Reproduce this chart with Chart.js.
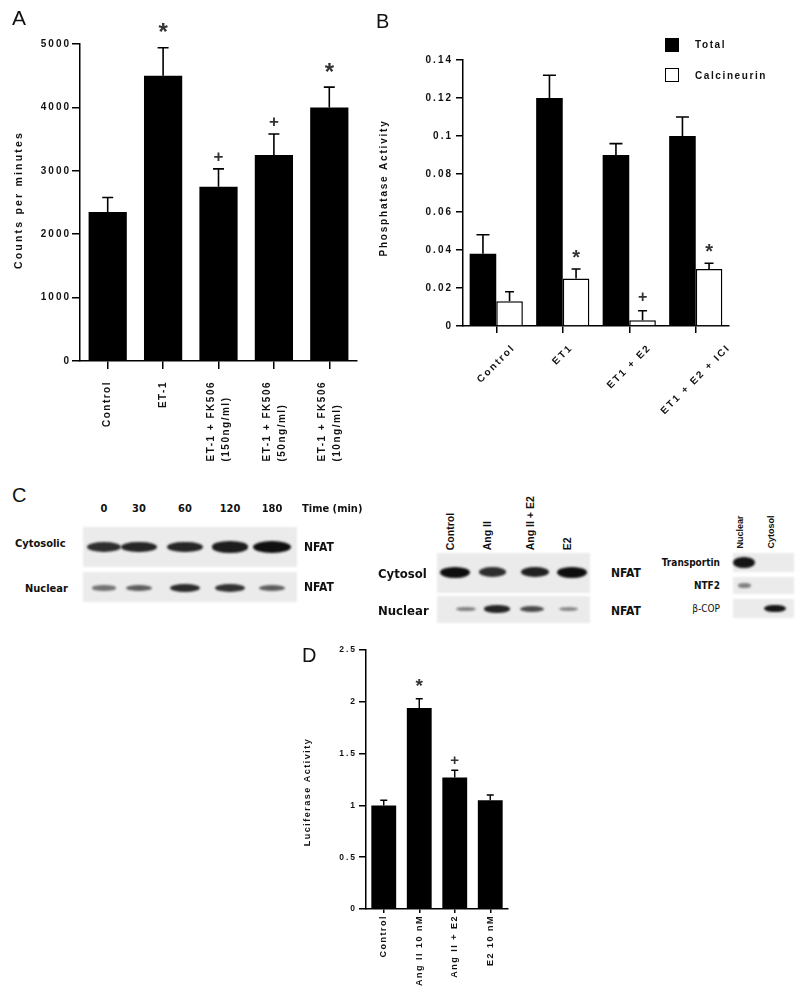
<!DOCTYPE html>
<html><head><meta charset="utf-8">
<script src="https://cdn.jsdelivr.net/npm/chart.js@4"></script>
<style>
body{margin:0;background:#fff;}
#root{position:relative;width:800px;height:1000px;overflow:hidden;font-family:'Liberation Sans',Arial,sans-serif;color:#111;background:#fff;}
canvas{position:absolute;}
.t{position:absolute;white-space:nowrap;line-height:1;}
.narrow{font-family:'Liberation Sans Narrow','DejaVu Sans Condensed','Arial Narrow',sans-serif;font-stretch:condensed;font-weight:bold;}
.strip{position:absolute;background:#ebebeb;filter:blur(0.8px);}
.band{position:absolute;border-radius:50%;filter:blur(1.3px);}
.plabel{position:absolute;font-size:20px;line-height:1;font-family:'Liberation Sans',Arial,sans-serif;color:#111;}
</style></head>
<body><div id="root">
<canvas id="cA" width="370" height="470" style="left:0;top:0;width:370px;height:470px"></canvas>
<canvas id="cB" width="430" height="470" style="left:370px;top:0;width:430px;height:470px"></canvas>
<canvas id="cD" width="250" height="370" style="left:280px;top:630px;width:250px;height:370px"></canvas>
</div>
<script>
// ---------- Panel A data ----------
const aCategories = ['Control','ET-1',['ET-1 + FK506','(150ng/ml)'],['ET-1 + FK506','(50ng/ml)'],['ET-1 + FK506','(10ng/ml)']];
const aCounts = [2350,4500,2750,3250,4000];
const aErrors = [230,440,280,330,320];
const aMarks = ['','*','+','+','*'];
const aTickLabels = ['0','1000','2000','3000','4000','5000'];
// ---------- Panel B data ----------
const bCategories = ['Control','ET1','ET1 + E2','ET1 + E2 + ICI'];
const bTotal = [0.038,0.120,0.090,0.100];
const bTotalErr = [0.010,0.012,0.006,0.010];
const bCalcineurin = [0.013,0.025,0.003,0.030];
const bCalcErr = [0.005,0.005,0.005,0.003];
const bTotalMarks = ['','','',''];
const bCalcMarks = ['','*','+','*'];
const bTickLabels = ['0','0.02','0.04','0.06','0.08','0.1','0.12','0.14'];
const bSeriesNames = ['Total','Calcineurin'];
// ---------- Panel D data ----------
const dCategories = ['Control','Ang II 10 nM','Ang II + E2','E2 10 nM'];
const dLuciferase = [1.00,1.94,1.27,1.05];
const dErrors = [0.05,0.09,0.07,0.05];
const dMarks = ['','*','+',''];
const dTickLabels = ['0','0.5','1','1.5','2','2.5'];
// ---------- Panel C (blots) data ----------
const timePoints = ['0','30','60','120','180'];
const timeCytosolic = [0.78,0.84,0.84,0.9,1.0];
const timeNuclear = [0.35,0.5,0.85,0.8,0.5];
const treatLanes = ['Control','Ang II','Ang II + E2','E2'];
const treatCytosol = [1.0,0.75,0.85,1.0];
const treatNuclear = [0.3,0.9,0.65,0.25];
const fractionLanes = ['Nuclear','Cytosol'];
const fractionMarkers = ['Transportin','NTF2','β-COP'];
const fractionBands = [[0.95,0],[0.25,0],[0,0.95]];

const FONT = '"Liberation Sans", Arial, sans-serif';

const figPlugin = {
  id:'fig',
  beforeDraw(chart, args, o){ chart.ctx.letterSpacing = (o.tickSpacing||0)+'px'; },
  afterDatasetsDraw(chart, args, o){
    const ctx = chart.ctx, ys = chart.scales.y;
    (o.errors||[]).forEach((errs, di)=>{
      if(!errs) return;
      const meta = chart.getDatasetMeta(di);
      const data = chart.data.datasets[di].data;
      meta.data.forEach((bar,i)=>{
        const top = ys.getPixelForValue(data[i]+errs[i]);
        const c = o.caps[di]/2;
        ctx.save(); ctx.strokeStyle='#000'; ctx.lineWidth=o.errWidth; ctx.lineCap='butt';
        ctx.beginPath(); ctx.moveTo(bar.x,bar.y); ctx.lineTo(bar.x,top);
        ctx.moveTo(bar.x-c,top); ctx.lineTo(bar.x+c,top); ctx.stroke(); ctx.restore();
      });
    });
  },
  afterDraw(chart, args, o){
    const ctx = chart.ctx, ys = chart.scales.y, xs = chart.scales.x, ca = chart.chartArea;
    // significance marks
    (o.marks||[]).forEach((list, di)=>{
      if(!list) return;
      const meta = chart.getDatasetMeta(di);
      const data = chart.data.datasets[di].data;
      const errs = o.errors[di];
      meta.data.forEach((bar,i)=>{
        const sym = list[i]; if(!sym) return;
        const top = ys.getPixelForValue(data[i]+errs[i]);
        ctx.save(); ctx.letterSpacing='0px'; ctx.font=o.markFont[sym]; ctx.fillStyle=o.markColor;
        ctx.textAlign='center'; ctx.textBaseline='alphabetic';
        const m = ctx.measureText(sym);
        const cy = top - o.markGap[sym];
        ctx.fillText(sym, bar.x, cy + (m.actualBoundingBoxAscent - m.actualBoundingBoxDescent)/2);
        ctx.restore();
      });
    });
    // x labels
    const xl = o.xLabels;
    chart.data.labels.forEach((lab,i)=>{
      const x = xs.getPixelForValue(i);
      ctx.save(); ctx.font = xl.font; ctx.letterSpacing = xl.spacing+'px'; ctx.fillStyle='#111';
      const lines = Array.isArray(lab) ? lab : [lab];
      if (xl.mode === 'vertical') {
        const W = Math.max(...lines.map(l=>ctx.measureText(l).width));
        const yTop = ca.bottom + xl.top;
        lines.forEach((l,j)=>{
          const off = lines.length>1 ? xl.lineOffsets[j] : 0;
          ctx.save(); ctx.translate(x+off, yTop); ctx.rotate(-Math.PI/2);
          ctx.textAlign='left'; ctx.textBaseline='middle';
          ctx.fillText(l, -W, 0); ctx.restore();
        });
      } else {
        const w = ctx.measureText(lines[0]).width;
        const cy = ca.bottom + xl.top + (w*0.707 + xl.h*0.707)/2;
        ctx.translate(x, cy); ctx.rotate(-Math.PI/4);
        ctx.textAlign='center'; ctx.textBaseline='middle';
        ctx.fillText(lines[0], 0, 0);
      }
      ctx.restore();
    });
    // y title
    const yt = o.yTitle;
    ctx.save(); ctx.font=yt.font; ctx.letterSpacing=yt.spacing+'px'; ctx.fillStyle='#111';
    ctx.translate(yt.x, yt.cy); ctx.rotate(-Math.PI/2); ctx.textAlign='center'; ctx.textBaseline='middle';
    ctx.fillText(yt.text, 0, 0); ctx.restore();
  }
};

function axes(o){
  return {
    x: { offset:true,
      grid:{display:true, drawOnChartArea:false, drawTicks:true, tickLength:o.xTick, offset:false, color:'#000', lineWidth:1.5},
      border:{display:true, color:'#000', width:1.5},
      ticks:{display:false},
      afterFit:(s)=>{ s.height = o.xHeight; } },
    y: { min:0, max:o.max, beginAtZero:true,
      grid:{display:true, drawOnChartArea:false, drawTicks:true, tickLength:o.yTick, color:'#000', lineWidth:1.5},
      border:{display:true, color:'#000', width:1.5},
      ticks:{stepSize:o.step, padding:o.pad, color:'#111', autoSkip:false,
        font:{family:FONT, size:o.tickSize, weight:'bold'},
        callback:(v,i)=>o.labels[i]},
      afterFit:(s)=>{ s.width = o.yWidth; } }
  };
}

// Panel A
new Chart(document.getElementById('cA'), {
  type:'bar',
  data:{ labels:aCategories, datasets:[{data:aCounts, backgroundColor:'#000', borderColor:'#000', borderWidth:0, barPercentage:0.69, categoryPercentage:1.0}]},
  options:{ responsive:false, animation:false, maintainAspectRatio:false,
    layout:{padding:{top:44,right:13,left:0,bottom:0}},
    scales:axes({max:5000, step:1000, labels:aTickLabels, xTick:8, yTick:8, pad:1, tickSize:10, xHeight:109, yWidth:80}),
    plugins:{ legend:{display:false}, tooltip:{enabled:false},
      fig:{ tickSpacing:2, errors:[aErrors], caps:[11], errWidth:1.6,
        marks:[aMarks], markGap:{'*':20,'+':12.5},
        markFont:{'*':'bold 24px '+FONT,'+':'bold 17px '+FONT}, markColor:'#333',
        xLabels:{mode:'vertical', top:20, font:'bold 10px '+FONT, spacing:1.5, lineOffsets:[-7,8]},
        yTitle:{text:'Counts per minutes', x:19, cy:200, font:'bold 10.5px '+FONT, spacing:2.2} } } },
  plugins:[figPlugin]
});

// Panel B
new Chart(document.getElementById('cB'), {
  type:'bar',
  data:{ labels:bCategories, datasets:[
    {label:bSeriesNames[0], data:bTotal, backgroundColor:'#000', borderColor:'#000', borderWidth:0, barPercentage:1.0, categoryPercentage:0.8},
    {label:bSeriesNames[1], data:bCalcineurin, backgroundColor:'#fff', borderColor:'#000', borderWidth:1.5, barPercentage:1.0, categoryPercentage:0.8}
  ]},
  options:{ responsive:false, animation:false, maintainAspectRatio:false,
    layout:{padding:{top:60,right:71,left:0,bottom:0}},
    scales:axes({max:0.14, step:0.02, labels:bTickLabels, xTick:7, yTick:7, pad:3, tickSize:10, xHeight:144, yWidth:93}),
    plugins:{ legend:{display:false}, tooltip:{enabled:false},
      fig:{ tickSpacing:2, errors:[bTotalErr,bCalcErr], caps:[13,9], errWidth:1.6,
        marks:[bTotalMarks,bCalcMarks], markGap:{'*':15,'+':14},
        markFont:{'*':'bold 20px '+FONT,'+':'bold 16px '+FONT}, markColor:'#333',
        xLabels:{mode:'diag', top:17, h:9, font:'bold 10px '+FONT, spacing:2},
        yTitle:{text:'Phosphatase Activity', x:14, cy:188, font:'bold 10px '+FONT, spacing:1.8} } } },
  plugins:[figPlugin]
});

// Panel D
new Chart(document.getElementById('cD'), {
  type:'bar',
  data:{ labels:dCategories, datasets:[{data:dLuciferase, backgroundColor:'#000', borderColor:'#000', borderWidth:0, barPercentage:0.7, categoryPercentage:1.0}]},
  options:{ responsive:false, animation:false, maintainAspectRatio:false,
    layout:{padding:{top:20,right:22,left:0,bottom:0}},
    scales:axes({max:2.5, step:0.5, labels:dTickLabels, xTick:4, yTick:7, pad:2, tickSize:8.5, xHeight:91, yWidth:86}),
    plugins:{ legend:{display:false}, tooltip:{enabled:false},
      fig:{ tickSpacing:2, errors:[dErrors], caps:[7], errWidth:1.4,
        marks:[dMarks], markGap:{'*':16.5,'+':10},
        markFont:{'*':'bold 19px '+FONT,'+':'bold 15px '+FONT}, markColor:'#333',
        xLabels:{mode:'vertical', top:6, font:'bold 9px '+FONT, spacing:1.5, lineOffsets:[0,0]},
        yTitle:{text:'Luciferase Activity', x:28, cy:162, font:'bold 9px '+FONT, spacing:1.5} } } },
  plugins:[figPlugin]
});

// ---------- HTML parts: panel letters, legend, blots ----------
const root = document.getElementById('root');
function el(cls, css, text){
  const d = document.createElement('div'); d.className = cls;
  Object.assign(d.style, css); if(text!==undefined) d.textContent = text;
  root.appendChild(d); return d;
}
function label(text, x, y, size, cls, align){
  const tx = align==='right' ? '-100%' : (align==='center' ? '-50%' : '0');
  return el('t '+(cls||''), {left:x+'px', top:y+'px', fontSize:size+'px', transform:`translate(${tx},-50%)`}, text);
}
function vlabel(text, x, yBottom, size, cls){
  return el('t '+(cls||''), {left:x+'px', top:(yBottom - size/2)+'px', fontSize:size+'px',
    transformOrigin:'0 50%', transform:'rotate(-90deg)'}, text);
}
function strip(x1,y1,x2,y2){ el('strip', {left:x1+'px', top:y1+'px', width:(x2-x1)+'px', height:(y2-y1)+'px'}); }
function band(cx, cy, w, h, a){
  el('band', {left:(cx-w/2)+'px', top:(cy-h/2)+'px', width:w+'px', height:h+'px', background:`rgba(8,8,8,${a})`});
}

el('plabel', {left:'12px', top:'7px', fontSize:'21px'}, 'A');
el('plabel', {left:'376px', top:'11px'}, 'B');
el('plabel', {left:'12px', top:'485px'}, 'C');
el('plabel', {left:'302px', top:'645px'}, 'D');

// legend B
el('t', {left:'665px', top:'38px', width:'14px', height:'14px', background:'#000'});
el('t', {left:'665px', top:'68px', width:'14px', height:'14px', background:'#fff', border:'1.5px solid #000', boxSizing:'border-box'});
label(bSeriesNames[0], 695, 45, 10, '', 'left').style.cssText += 'font-weight:bold;letter-spacing:1.6px;';
label(bSeriesNames[1], 695, 76, 10, '', 'left').style.cssText += 'font-weight:bold;letter-spacing:1.6px;';

// Blot 1: time course
const tX = [104,139,185,230,272];
timePoints.forEach((t,i)=>label(t, tX[i], 508, 11, 'narrow', 'center'));
label('Time (min)', 302, 508, 11, 'narrow', 'left');
label('Cytosolic', 15, 543, 11, 'narrow', 'left');
label('Nuclear', 25, 588, 11, 'narrow', 'left');
label('NFAT', 304, 547, 12, 'narrow', 'left');
label('NFAT', 304, 587, 12, 'narrow', 'left');
strip(83,527,297,567);
strip(83,572,297,602);
timeCytosolic.forEach((v,i)=>band(tX[i], 547, 22+16*v, 4+8*v, 0.35+0.62*v));
timeNuclear.forEach((v,i)=>band(tX[i], 588, 20+12*v, 3+6*v, 0.3+0.65*v));

// Blot 2: treatments
const cX = [455,492,535,572];
const nX = [466,497,532,568];
treatLanes.forEach((t,i)=>vlabel(t, cX[i]-5, 550, 10.5, '').style.fontWeight='bold');
label('Cytosol', 378, 573, 13, 'narrow', 'left');
label('Nuclear', 378, 610, 13, 'narrow', 'left');
label('NFAT', 611, 573, 12, 'narrow', 'left');
label('NFAT', 611, 611, 12, 'narrow', 'left');
strip(437,553,590,593);
strip(437,596,590,623);
treatCytosol.forEach((v,i)=>band(cX[i], 572, 18+12*v, 5+6*v, 0.4+0.58*v));
treatNuclear.forEach((v,i)=>band(nX[i], 609, 16+12*v, 3+5*v, 0.25+0.7*v));

// Blot 3: fraction markers
const fX = [744,775];
const fY = [[553,572],[577,594],[599,618]];
fractionLanes.forEach((t,i)=>vlabel(t, fX[i]-4, 548, 9, '').style.fontWeight='bold');
fractionMarkers.forEach((m,r)=>{
  const l = label(m, 720, (fY[r][0]+fY[r][1])/2, 10, 'narrow', 'right');
  if (r===2) l.style.fontWeight='normal';
  strip(733, fY[r][0], 794, fY[r][1]);
  fractionBands[r].forEach((v,c)=>{ if(v>0) band(fX[c], (fY[r][0]+fY[r][1])/2, 10+12*v, 2+9*v*(r===2?0.7:1), 0.3+0.68*v); });
});
</script>
</body></html>
